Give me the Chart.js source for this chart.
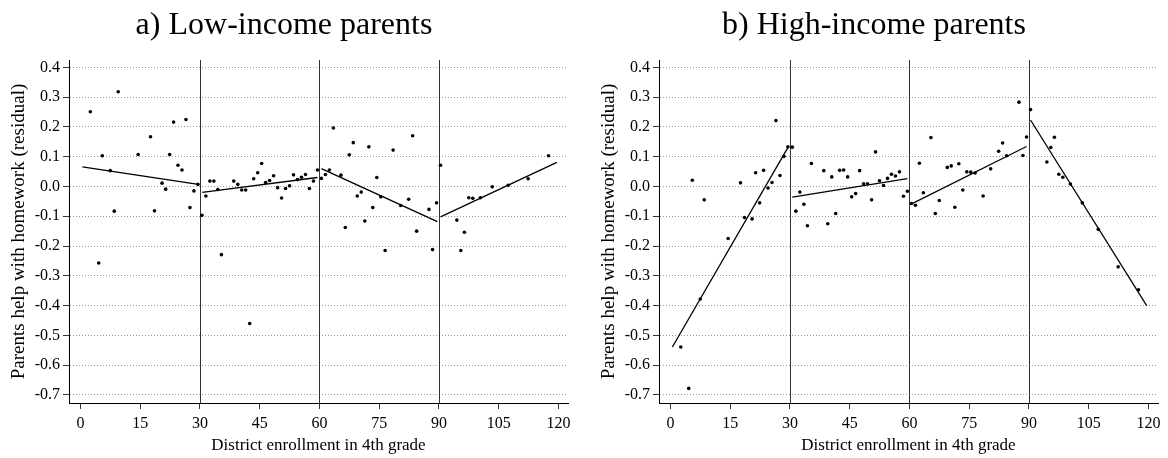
<!DOCTYPE html>
<html>
<head>
<meta charset="utf-8">
<script src="https://cdn.jsdelivr.net/npm/chart.js@4.4.1/dist/chart.umd.min.js"></script>
<style>
  body { margin: 0; background: #fff; width: 1168px; height: 458px; overflow: hidden; position: relative; }
  canvas { position: absolute; top: 0; }
  #low { left: 0; }
  #high { left: 590px; }
</style>
</head>
<body>
<canvas id="low" width="578" height="458"></canvas>
<canvas id="high" width="578" height="458"></canvas>
<script>
const xTicks = [0, 15, 30, 45, 60, 75, 90, 105, 120];
const yTicks = [-0.7, -0.6, -0.5, -0.4, -0.3, -0.2, -0.1, 0, 0.1, 0.2, 0.3, 0.4];
const cutoffs = [30, 60, 90];

// binned means, low-income parents
const lowEnroll = [2.5, 4.6, 5.5, 7.5, 8.5, 9.5, 14.5, 17.6, 18.6, 20.5, 21.4, 22.4, 23.4, 24.5, 25.5, 26.5, 27.5, 28.5, 29.5,
  30.5, 31.5, 32.5, 33.5, 34.5, 35.4, 38.5, 39.5, 40.5, 41.5, 42.5, 43.5, 44.5, 45.5, 46.5, 47.5, 48.5, 49.5, 50.5, 51.5,
  52.5, 53.5, 54.5, 55.5, 56.5, 57.5, 58.5, 59.5, 60.5, 61.5, 62.5, 63.5, 65.4, 66.5, 67.5, 68.5, 69.5, 70.5, 71.4, 72.4,
  73.4, 74.4, 75.4, 76.5, 78.5, 80.4, 82.4, 83.4, 84.4, 87.5, 88.4, 89.4, 90.4, 94.5, 95.5, 96.4, 97.5, 98.5, 100.4, 103.4,
  107.4, 112.4, 117.5];
const lowResid = [0.251, -0.257, 0.103, 0.053, -0.083, 0.318, 0.107, 0.167, -0.082, 0.011, -0.009, 0.107, 0.216, 0.071, 0.055, 0.225, -0.071, -0.015, 0.007,
  -0.097, -0.032, 0.018, 0.018, -0.010, -0.229, 0.018, 0.007, -0.012, -0.012, -0.46, 0.026, 0.046, 0.077, 0.013, 0.02, 0.036, -0.004, -0.039, -0.007,
  0.002, 0.039, 0.023, 0.031, 0.040, -0.007, 0.018, 0.055, 0.027, 0.040, 0.055, 0.196, 0.038, -0.138, 0.106, 0.147, -0.032, -0.019, -0.116, 0.133,
  -0.071, 0.030, -0.035, -0.215, 0.122, -0.064, -0.043, 0.170, -0.150, -0.077, -0.212, -0.055, 0.071, -0.113, -0.215, -0.154, -0.038, -0.040, -0.038, -0.001,
  0.004, 0.026, 0.103];

// binned means, high-income parents
const highEnroll = [2.6, 4.6, 5.5, 7.5, 8.5, 14.5, 17.6, 18.6, 20.5, 21.4, 22.4, 23.4, 24.5, 25.5, 26.5, 27.5, 28.5, 29.5,
  30.6, 31.5, 32.5, 33.5, 34.4, 35.4, 38.5, 39.5, 40.5, 41.5, 42.5, 43.5, 44.5, 45.5, 46.5, 47.5, 48.5, 49.5, 50.5, 51.5,
  52.5, 53.5, 54.5, 55.5, 56.5, 57.5, 58.5, 59.5, 60.5, 61.5, 62.5, 63.5, 65.4, 66.5, 67.5, 69.5, 70.5, 71.4, 72.4, 73.4,
  74.4, 75.4, 76.5, 78.5, 80.4, 82.4, 83.4, 84.4, 87.5, 88.5, 89.4, 90.4, 94.5, 95.5, 96.4, 97.5, 98.5, 100.4, 103.4,
  107.4, 112.4, 117.5];
const highResid = [-0.539, -0.678, 0.021, -0.378, -0.045, -0.175, 0.012, -0.104, -0.109, 0.046, -0.055, 0.054, -0.005, 0.013, 0.221, 0.037, 0.101, 0.133,
  0.132, -0.083, -0.019, -0.060, -0.132, 0.077, 0.053, -0.125, 0.032, -0.091, 0.054, 0.055, 0.032, -0.035, -0.024, 0.053, 0.009, 0.009, -0.045, 0.116,
  0.019, 0.003, 0.027, 0.041, 0.035, 0.049, -0.033, -0.016, -0.057, -0.063, 0.078, -0.021, 0.164, -0.091, -0.047, 0.064, 0.069, -0.070, 0.076, -0.012,
  0.049, 0.048, 0.045, -0.032, 0.059, 0.118, 0.146, 0.103, 0.283, 0.104, 0.166, 0.258, 0.082, 0.131, 0.165, 0.041, 0.031, 0.008, -0.055,
  -0.144, -0.270, -0.347];

// linear fits inside each enrollment segment (start, end)
const lowFitEnroll = [[0.5, 29.6], [30.6, 59.5], [60.5, 89.6], [90.4, 119.6]];
const lowFit = [[0.066, 0.007], [-0.020, 0.030], [0.060, -0.118], [-0.102, 0.081]];
const highFitEnroll = [[0.5, 29.6], [30.6, 59.5], [60.3, 89.4], [90.4, 119.6]];
const highFit = [[-0.539, 0.133], [-0.036, 0.026], [-0.060, 0.134], [0.223, -0.401]];

const tickFont = { family: "Liberation Serif", size: 16 };

const cutoffLines = {
  id: "cutoffLines",
  beforeDatasetsDraw(chart) {
    const { ctx, chartArea, scales } = chart;
    ctx.save();
    ctx.strokeStyle = "#333";
    ctx.lineWidth = 1;
    cutoffs.forEach((c) => {
      const x = Math.round(scales.x.getPixelForValue(c)) + 0.5;
      ctx.beginPath();
      ctx.moveTo(x, chartArea.top);
      ctx.lineTo(x, chartArea.bottom);
      ctx.stroke();
    });
    ctx.restore();
  },
};

function makeChart(id, title, enroll, resid, fitEnroll, fit) {
  const datasets = [
    {
      type: "scatter",
      data: enroll.map((x, i) => ({ x: x, y: resid[i] })),
      pointRadius: 1.8,
      pointBackgroundColor: "#000",
      pointBorderWidth: 0,
    },
  ];
  fitEnroll.forEach((seg, i) => {
    datasets.push({
      type: "line",
      data: [
        { x: seg[0], y: fit[i][0] },
        { x: seg[1], y: fit[i][1] },
      ],
      borderColor: "#000",
      borderWidth: 1.3,
      pointRadius: 0,
    });
  });

  return new Chart(document.getElementById(id), {
    type: "scatter",
    data: { datasets: datasets },
    plugins: [cutoffLines],
    options: {
      responsive: false,
      animation: false,
      devicePixelRatio: 1,
      layout: { padding: { left: 0, right: 10, top: 0, bottom: 0 } },
      plugins: {
        legend: { display: false },
        tooltip: { enabled: false },
        title: {
          display: true,
          text: title,
          color: "#000",
          font: { family: "Liberation Serif", size: 32, weight: "normal" },
          padding: { top: 6, bottom: 15.6 },
        },
      },
      scales: {
        x: {
          type: "linear",
          min: -2.86,
          max: 122.4,
          afterBuildTicks: (s) => { s.ticks = xTicks.map((v) => ({ value: v })); },
          afterFit: (s) => { s.height = 55; },
          ticks: { color: "#000", font: tickFont, padding: 5, maxRotation: 0 },
          grid: { drawOnChartArea: false, tickLength: 6, tickColor: "#333", tickBorderDash: [] },
          border: { color: "#000", width: 1 },
          title: {
            display: true,
            text: "District enrollment in 4th grade",
            color: "#000",
            font: { family: "Liberation Serif", size: 17 },
            padding: { top: 0, bottom: 2 },
          },
        },
        y: {
          min: -0.727,
          max: 0.4245,
          afterBuildTicks: (s) => { s.ticks = yTicks.map((v) => ({ value: v })); },
          afterFit: (s) => { s.width = 69; },
          ticks: { color: "#000", font: tickFont, padding: 3, callback: (v) => v.toFixed(1) },
          grid: { color: "#999", tickLength: 6, tickColor: "#333", tickBorderDash: [] },
          border: { color: "#000", width: 1, dash: [1, 2] },
          title: {
            display: true,
            text: "Parents help with homework (residual)",
            color: "#000",
            font: { family: "Liberation Serif", size: 19 },
            padding: { top: 8, bottom: 0 },
          },
        },
      },
    },
  });
}

makeChart("low", "a) Low-income parents", lowEnroll, lowResid, lowFitEnroll, lowFit);
makeChart("high", "b) High-income parents", highEnroll, highResid, highFitEnroll, highFit);
</script>
</body>
</html>
